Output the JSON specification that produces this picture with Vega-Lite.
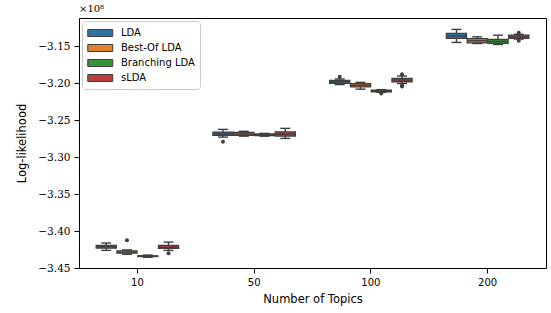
{
  "$schema": "https://vega.github.io/schema/vega-lite/v6.json",
  "width": 467,
  "height": 250,
  "autosize": {"type": "none"},
  "padding": {"left": 79, "top": 18, "right": 5, "bottom": 45},
  "background": "white",
  "title": {"text": "×10⁸", "anchor": "start", "frame": "group", "font": "DejaVu Serif", "fontSize": 10, "fontWeight": "normal", "color": "black", "offset": 4},
  "config": {
    "view": {"stroke": "black", "strokeWidth": 1},
    "axis": {"domain": false, "grid": false, "tickColor": "black", "tickWidth": 1, "tickSize": 5, "labelColor": "black", "titleColor": "black", "titleFontWeight": "normal", "titleFont": "DejaVu Sans", "titleFontSize": 11.5},
    "legend": {"orient": "top-left", "offset": 3, "padding": 5, "strokeColor": "#cccccc", "fillColor": "rgba(255,255,255,0.8)", "cornerRadius": 3, "labelFont": "DejaVu Sans", "labelFontSize": 10, "labelColor": "black", "symbolSize": 156, "symbolType": "M-1,-0.56H3V0.56H-1Z", "labelOffset": 20, "rowPadding": 2, "symbolStrokeColor": "#3f3f3f", "symbolStrokeWidth": 1, "symbolOpacity": 1}
  },
  "datasets": {
    "boxes": [
      {"topics": "10", "model": "LDA", "lo": -3.4262, "q1": -3.4232, "med": -3.4212, "q3": -3.4195, "hi": -3.4162},
      {"topics": "10", "model": "Best-Of LDA", "lo": -3.4315, "q1": -3.4300, "med": -3.4285, "q3": -3.4268, "hi": -3.4255},
      {"topics": "10", "model": "Branching LDA", "lo": -3.4355, "q1": -3.4345, "med": -3.4340, "q3": -3.4335, "hi": -3.4325},
      {"topics": "10", "model": "sLDA", "lo": -3.4262, "q1": -3.4235, "med": -3.4220, "q3": -3.4195, "hi": -3.4150},
      {"topics": "50", "model": "LDA", "lo": -3.2730, "q1": -3.2708, "med": -3.2688, "q3": -3.2662, "hi": -3.2626},
      {"topics": "50", "model": "Best-Of LDA", "lo": -3.2718, "q1": -3.2705, "med": -3.2688, "q3": -3.2668, "hi": -3.2652},
      {"topics": "50", "model": "Branching LDA", "lo": -3.2718, "q1": -3.2710, "med": -3.2700, "q3": -3.2688, "hi": -3.2680},
      {"topics": "50", "model": "sLDA", "lo": -3.2748, "q1": -3.2716, "med": -3.2690, "q3": -3.2660, "hi": -3.2612},
      {"topics": "100", "model": "LDA", "lo": -3.2020, "q1": -3.2004, "med": -3.1982, "q3": -3.1962, "hi": -3.1945},
      {"topics": "100", "model": "Best-Of LDA", "lo": -3.2082, "q1": -3.2052, "med": -3.2030, "q3": -3.2008, "hi": -3.1990},
      {"topics": "100", "model": "Branching LDA", "lo": -3.2125, "q1": -3.2117, "med": -3.2108, "q3": -3.2097, "hi": -3.2088},
      {"topics": "100", "model": "sLDA", "lo": -3.2005, "q1": -3.1982, "med": -3.1958, "q3": -3.1935, "hi": -3.1905},
      {"topics": "200", "model": "LDA", "lo": -3.1450, "q1": -3.1396, "med": -3.1362, "q3": -3.1328, "hi": -3.1274},
      {"topics": "200", "model": "Best-Of LDA", "lo": -3.1465, "q1": -3.1455, "med": -3.1428, "q3": -3.1398, "hi": -3.1375},
      {"topics": "200", "model": "Branching LDA", "lo": -3.1478, "q1": -3.1464, "med": -3.1436, "q3": -3.1409, "hi": -3.1352},
      {"topics": "200", "model": "sLDA", "lo": -3.1405, "q1": -3.1396, "med": -3.1376, "q3": -3.1352, "hi": -3.1340}
    ],
    "outliers": [
      {"topics": "10", "model": "Best-Of LDA", "value": -3.4125},
      {"topics": "10", "model": "sLDA", "value": -3.4300},
      {"topics": "50", "model": "LDA", "value": -3.2793},
      {"topics": "100", "model": "LDA", "value": -3.1915},
      {"topics": "100", "model": "Branching LDA", "value": -3.2140},
      {"topics": "100", "model": "sLDA", "value": -3.1880},
      {"topics": "100", "model": "sLDA", "value": -3.2045},
      {"topics": "100", "model": "sLDA", "value": -3.2030},
      {"topics": "200", "model": "sLDA", "value": -3.1318},
      {"topics": "200", "model": "sLDA", "value": -3.1428}
    ]
  },
  "encoding": {
    "x": {"field": "topics", "type": "nominal", "sort": ["10", "50", "100", "200"],
      "scale": {"domain": ["10", "50", "100", "200"], "paddingInner": 0.294, "paddingOuter": 0.147},
      "axis": {"title": "Number of Topics", "labelAngle": 0, "labelFont": "DejaVu Sans", "labelFontSize": 10, "labelPadding": 4, "titlePadding": 6}},
    "xOffset": {"field": "model", "type": "nominal", "sort": ["LDA", "Best-Of LDA", "Branching LDA", "sLDA"],
      "scale": {"domain": ["LDA", "Best-Of LDA", "Branching LDA", "sLDA"], "paddingInner": 0.03, "paddingOuter": 0}}
  },
  "layer": [
    {
      "data": {"name": "boxes"},
      "mark": {"type": "rule", "color": "#3f3f3f", "strokeWidth": 1.4},
      "encoding": {
        "y": {"field": "lo", "type": "quantitative",
          "scale": {"domain": [-3.45, -3.112], "nice": false, "zero": false},
          "axis": {"title": "Log-likelihood", "values": [-3.45, -3.4, -3.35, -3.3, -3.25, -3.2, -3.15], "labelExpr": "replace(format(datum.value, '.2f'), '-', '−')", "labelFont": "DejaVu Serif", "labelFontSize": 10.5, "labelPadding": 4, "titlePadding": 10}},
        "y2": {"field": "hi"}
      }
    },
    {
      "data": {"name": "boxes"},
      "mark": {"type": "bar", "stroke": "#3f3f3f", "strokeWidth": 1.3, "opacity": 1},
      "encoding": {
        "y": {"field": "q1", "type": "quantitative"},
        "y2": {"field": "q3"},
        "color": {"field": "model", "type": "nominal", "sort": ["LDA", "Best-Of LDA", "Branching LDA", "sLDA"],
          "scale": {"domain": ["LDA", "Best-Of LDA", "Branching LDA", "sLDA"], "range": ["#3274a1", "#e1812c", "#3a923a", "#c03d3e"]},
          "legend": {"title": null}}
      }
    },
    {
      "data": {"name": "boxes"},
      "mark": {"type": "tick", "color": "#3f3f3f", "thickness": 1.4, "size": 19, "opacity": 1},
      "encoding": {"y": {"field": "med", "type": "quantitative"}}
    },
    {
      "data": {"name": "boxes"},
      "mark": {"type": "tick", "color": "#3f3f3f", "thickness": 1.4, "size": 10, "opacity": 1},
      "encoding": {"y": {"field": "lo", "type": "quantitative"}}
    },
    {
      "data": {"name": "boxes"},
      "mark": {"type": "tick", "color": "#3f3f3f", "thickness": 1.4, "size": 10, "opacity": 1},
      "encoding": {"y": {"field": "hi", "type": "quantitative"}}
    },
    {
      "data": {"name": "outliers"},
      "mark": {"type": "point", "shape": "circle", "filled": true, "color": "#3f3f3f", "size": 16, "opacity": 1},
      "encoding": {"y": {"field": "value", "type": "quantitative"}}
    }
  ]
}
